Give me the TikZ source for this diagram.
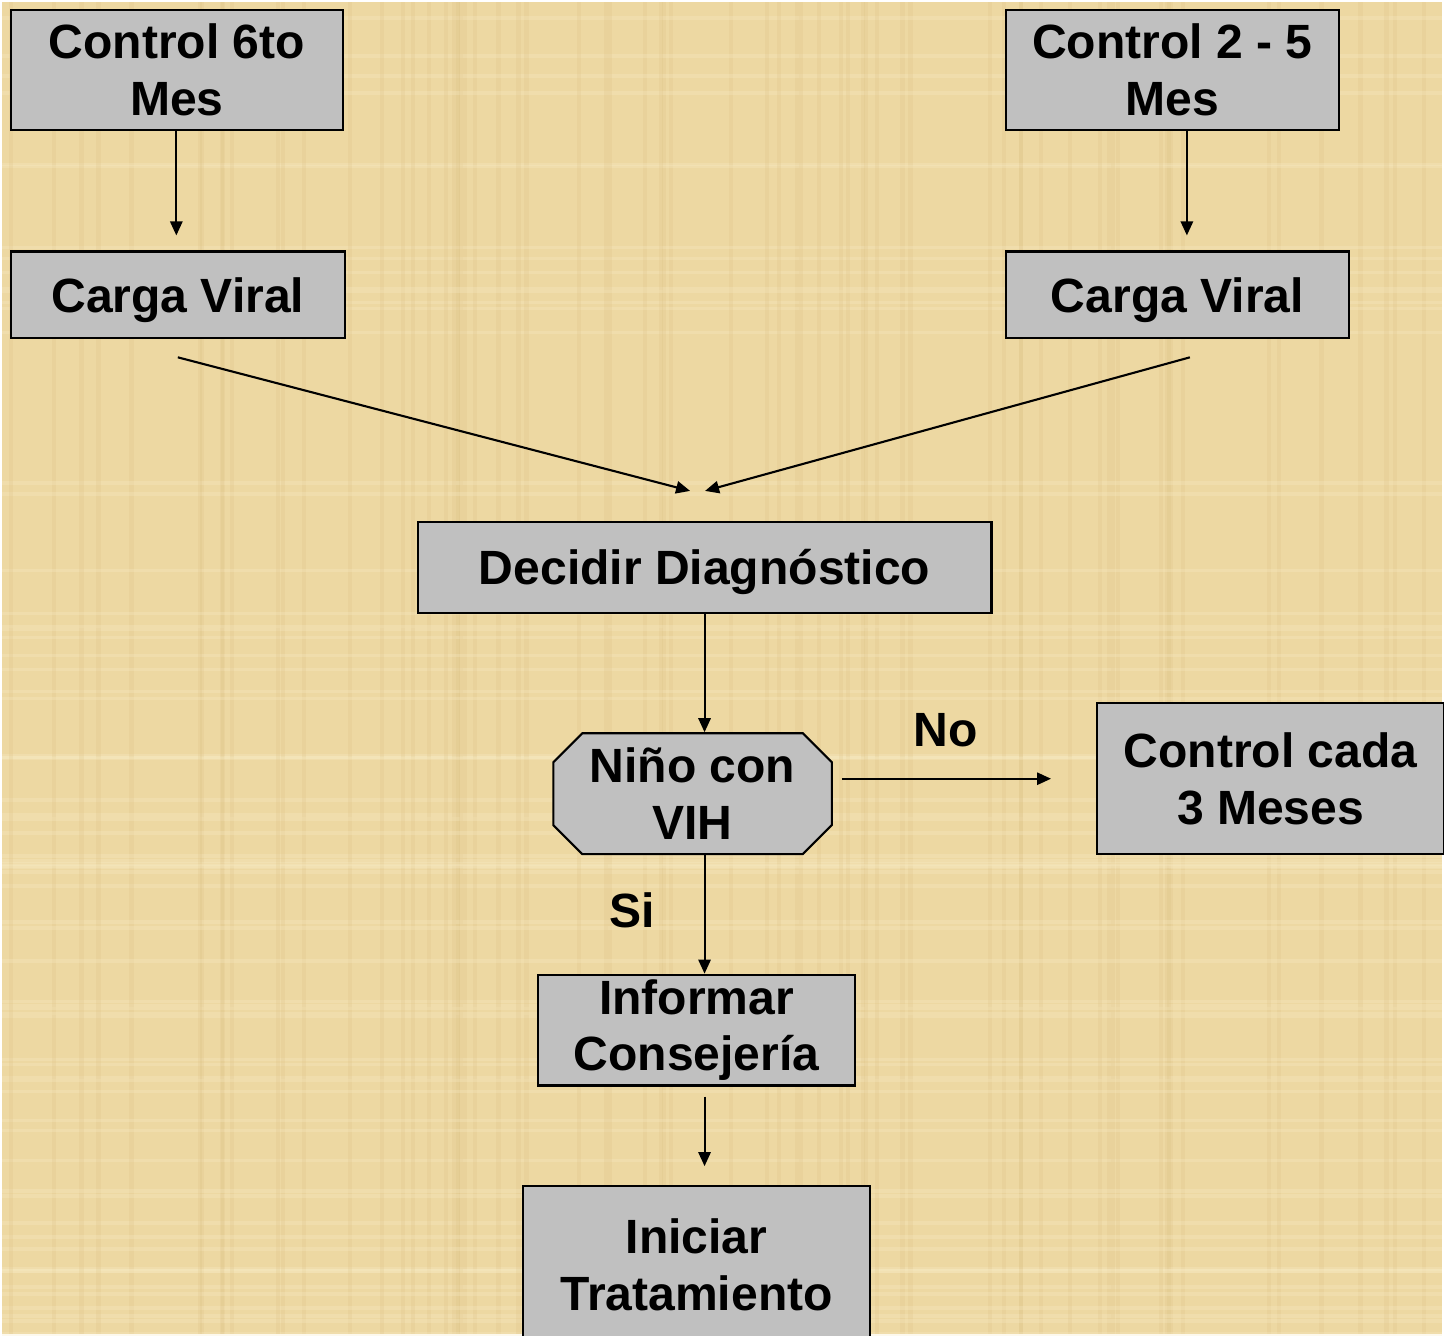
\documentclass[tikz,border=0pt]{standalone}
\usepackage{fontspec}
\setmainfont{Liberation Sans}
\usetikzlibrary{arrows.meta,positioning}
\definecolor{papyrus}{HTML}{EDD8A2}
\definecolor{papyrusDark}{HTML}{D9BE80}
\definecolor{papyrusLight}{HTML}{F8EBC4}
\definecolor{boxGray}{HTML}{C0C0C0}

\begin{document}
\begin{tikzpicture}[x=0.01cm, y=-0.01cm,
    box/.style={draw=black, fill=boxGray, line width=0.6pt, align=center,
                inner sep=0pt, font=\fontsize{13.7}{16.2}\selectfont\bfseries},
    flow/.style={-{Triangle[length=4pt,width=3.5pt]}, line width=0.6pt},
    lbl/.style={font=\fontsize{13.7}{16.2}\selectfont\bfseries}]
    % Background
    \fill[papyrus] (0,0) rectangle (1444,1335);
    \pgfmathsetseed{11}
    \foreach \i in {1,...,70} {
        \pgfmathsetmacro{\xx}{random(0,1444)}
        \pgfmathsetmacro{\yy}{random(0,1335)}
        \draw[papyrusDark, opacity=0.2, line width=1.2pt] (\xx,0) -- (\xx,1335);
        \draw[papyrusLight, opacity=0.3, line width=1pt] (0,\yy) -- (1444,\yy);
}
    \useasboundingbox (0,0) rectangle (1444,1335);

    % Boxes
    \node[box, minimum width=3.33cm, minimum height=1.2cm] (ctrlSix) at (175.5,68) {Control 6to\\Mes};
    \node[box, text depth=0pt, minimum width=3.35cm, minimum height=0.87cm] (cvLeft) at (176.5,293.5) {Carga Viral};
    \node[box, minimum width=3.33cm, minimum height=1.2cm] (ctrlTwo) at (1173.5,68) {Control 2 - 5\\Mes};
    \node[box, text depth=0pt, minimum width=3.43cm, minimum height=0.87cm] (cvRight) at (1178.5,293.5) {Carga Viral};
    \node[box, text depth=0pt, minimum width=5.75cm, minimum height=0.91cm] (decide) at (704.5,566.5) {Decidir Diagnóstico};
    % octagon for the decision
    \coordinate (hivC) at (692.5,793.5);
    \draw[box] ([xshift=-1.105cm,yshift=0.605cm]hivC) -- ([xshift=1.105cm,yshift=0.605cm]hivC)
        -- ([xshift=1.395cm,yshift=0.315cm]hivC) -- ([xshift=1.395cm,yshift=-0.315cm]hivC)
        -- ([xshift=1.105cm,yshift=-0.605cm]hivC) -- ([xshift=-1.105cm,yshift=-0.605cm]hivC)
        -- ([xshift=-1.395cm,yshift=-0.315cm]hivC) -- ([xshift=-1.395cm,yshift=0.315cm]hivC) -- cycle;
    \node[box, draw=none, fill=none, minimum width=2.79cm, minimum height=1.21cm] (hiv) at (hivC) {Niño con\\VIH};
    \node[box, minimum width=3.48cm, minimum height=1.51cm] (every3) at (1272,778.5) {Control cada\\3 Meses};
    \node[box, minimum width=3.17cm, minimum height=1.11cm] (inform) at (696.5,1030.5) {Informar\\Consejería};
    \node[box, minimum width=3.47cm, minimum height=1.58cm] (start) at (696.5,1266) {Iniciar\\Tratamiento};

    % Labels
    \node[lbl] (noLabel) at (946,730) {No};
    \node[lbl] (siLabel) at (632,910) {Si};

    % Arrows
    \coordinate (joinL) at (690,490);
    \coordinate (joinR) at (705,490);
    \draw[flow, shorten >=0.15cm] ([xshift=-0.005cm]ctrlSix.south) -- ([xshift=-0.005cm]ctrlSix.south |- cvLeft.north);
    \draw[flow, shorten >=0.15cm] ([xshift=0.145cm]ctrlTwo.south) -- ([xshift=0.145cm]ctrlTwo.south |- cvRight.north);
    \draw[flow] ([yshift=-0.18cm]cvLeft.south) -- (joinL);
    \draw[flow] ([xshift=0.125cm,yshift=-0.18cm]cvRight.south) -- (joinR);
    \draw[flow] (decide.south) -- (decide.south |- hiv.north);
    \draw[flow, shorten <=0.09cm, shorten >=0.45cm] (every3.west -| hiv.east) -- (every3.west);
    \draw[flow] (decide.south |- hiv.south) -- (decide.south |- inform.north);
    \draw[flow, shorten <=0.1cm, shorten >=0.19cm] (decide.south |- inform.south) -- (decide.south |- start.north);
\end{tikzpicture}
\end{document}
